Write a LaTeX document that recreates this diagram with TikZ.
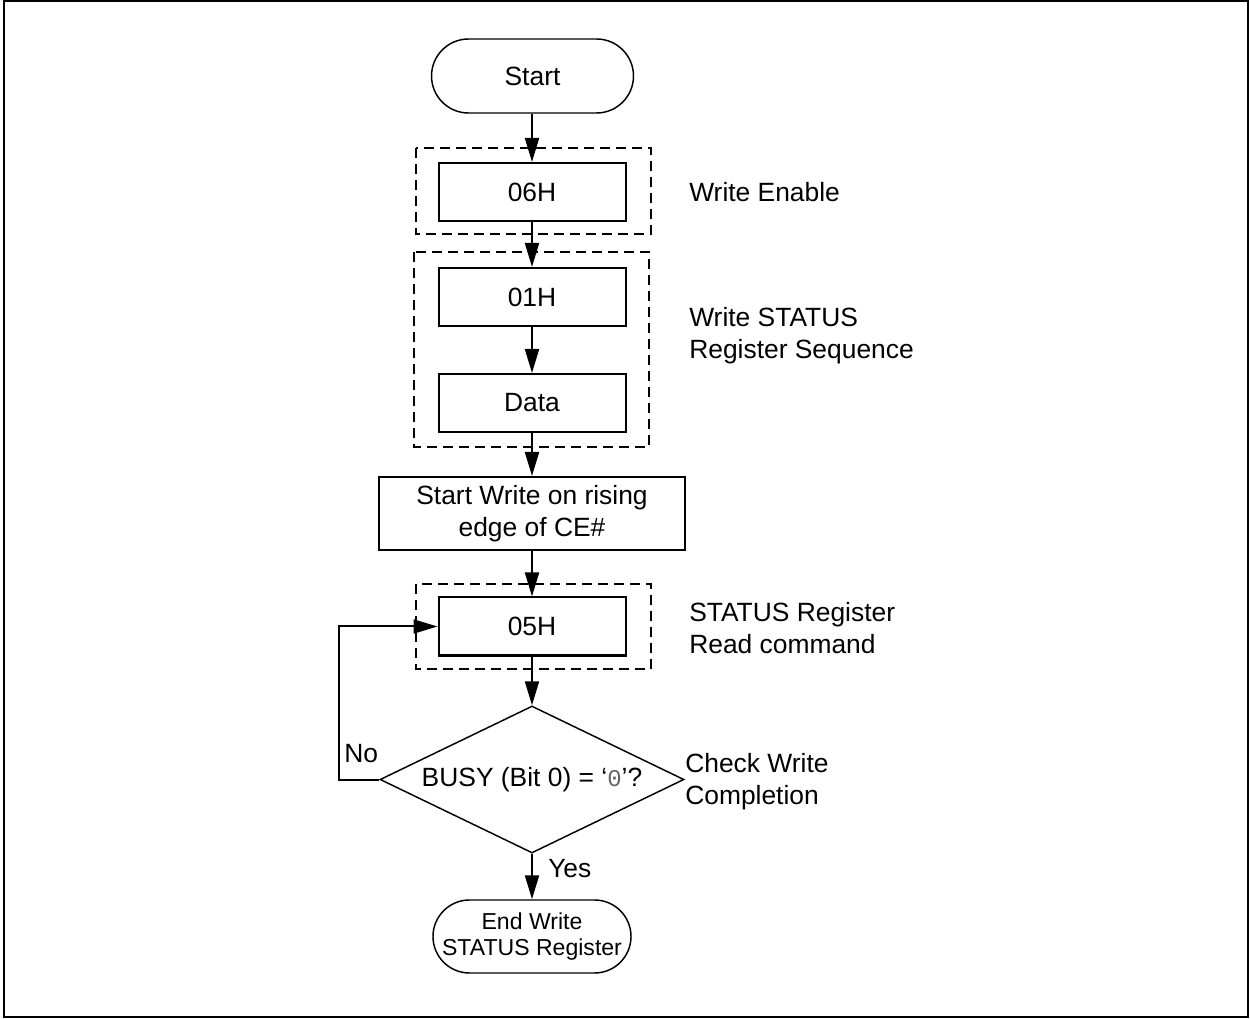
\documentclass[tikz,border=0pt]{standalone}
\usepackage{fontspec}
\setmainfont{Liberation Sans}
\newfontfamily\monofnt{Liberation Mono}
\usetikzlibrary{arrows.meta,shapes.geometric,shapes.misc}
\begin{document}
\begin{tikzpicture}[x=0.75pt,y=-0.75pt,
  procbox/.style={draw, line width=1.5pt, minimum width=187*0.75pt, minimum height=58*0.75pt, inner sep=0pt, font=\fontsize{19.8}{24}\selectfont, align=center},
  termbox/.style={draw, line width=1.1pt, rounded rectangle, inner sep=0pt, align=center},
  grpbox/.style={draw, dashed, line width=1pt, dash pattern=on 7.5pt off 4.5pt},
  lbl/.style={anchor=west, align=left, inner sep=0pt, font=\fontsize{19.8}{24}\selectfont},
  arr/.style={draw, line width=1.5pt, -{Triangle[length=18pt, width=10.5pt]}}
]
\useasboundingbox (0,0) rectangle (1250,1019);
\draw[line width=1.6pt] (4,1) rectangle (1248,1017);

% groups
\draw[grpbox] (416,148) rectangle (651,234);
\draw[grpbox] (414,252) rectangle (649,447);
\draw[grpbox] (416,584) rectangle (651,669);

% nodes
\node[termbox, minimum width=202*0.75pt, minimum height=74*0.75pt, font=\fontsize{19.8}{24}\selectfont] (start) at (532.5,76) {Start};
\node[procbox] (b06) at (532,192) {06H};
\node[procbox] (b01) at (532,297) {01H};
\node[procbox] (bdata) at (532,403) {Data};
\node[procbox, minimum width=306*0.75pt, minimum height=73*0.75pt] (bsw) at (532,513.5) {Start Write on rising\\edge of CE\#};
\node[procbox] (b05) at (532,626.5) {05H};
\node[diamond, draw, line width=1.1pt, inner sep=0pt, aspect=2.07, minimum width=304*0.75pt, minimum height=147*0.75pt, font=\fontsize{19.8}{24}\selectfont] (dia) at (532,779.5) {BUSY (Bit 0) = ‘{\color{black!60}\monofnt\fontsize{18}{20}\selectfont 0}’?};
\node[termbox, minimum width=187*0.75pt, minimum height=73*0.75pt, font=\fontsize{17.3}{20}\selectfont] (end) at (532,936.5) {End Write\\STATUS Register};

% labels
\node[lbl] (lwe) at (689,192) {Write Enable};
\node[lbl] (lws) at (689,336) {Write STATUS\\Register Sequence};
\node[lbl] (lrd) at (689,628) {STATUS Register\\Read command};
\node[lbl] (lck) at (685,782) {Check Write\\Completion};
\node[lbl] (lno) at (344,754) {No};
\node[lbl] (lyes) at (548,869) {Yes};

% connectors
\draw[arr] (start.south -| b06.north) -- (b06.north);
\draw[arr] (b06.south) -- (b01.north);
\draw[arr] (b01.south) -- (bdata.north);
\draw[arr] (bdata.south) -- (bsw.north -| bdata.south);
\draw[arr] (bsw.south -| b05.north) -- (b05.north);
\draw[arr] (b05.south) -- (dia.north -| b05.south);
\draw[arr] (dia.west) -- ++(-40,0) |- (b05.west);
\draw[arr] (dia.south) -- (end.north);
\end{tikzpicture}
\end{document}
